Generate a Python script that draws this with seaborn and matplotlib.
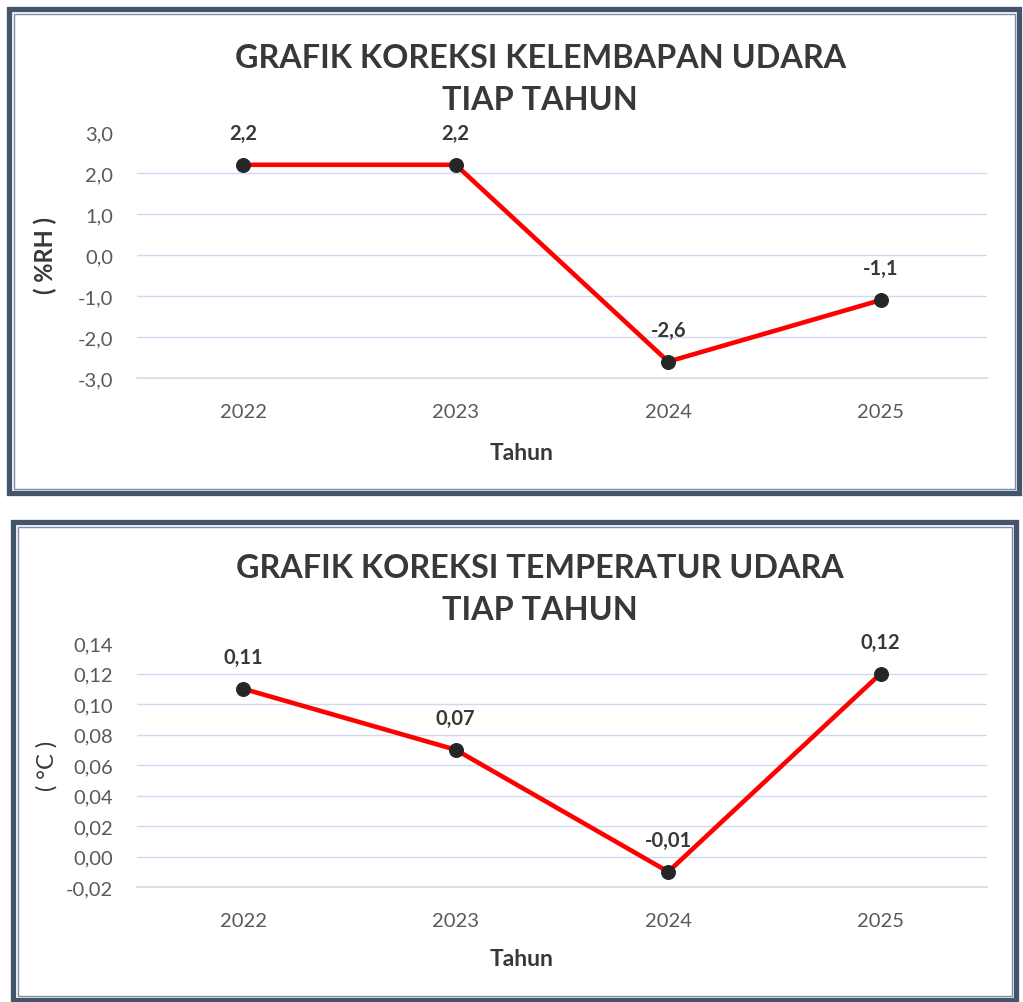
import numpy as np
import pandas as pd
import matplotlib
matplotlib.use("Agg")
import matplotlib.pyplot as plt
from matplotlib.patches import Rectangle
from matplotlib.ticker import FuncFormatter
import seaborn as sns

# data
years = ["2022", "2023", "2024", "2025"]
rh_values = [2.2, 2.2, -2.6, -1.1]
rh_labels = ["2,2", "2,2", "-2,6", "-1,1"]
rh_ticks = [-3.0, -2.0, -1.0, 0.0, 1.0, 2.0, 3.0]
temp_values = [0.11, 0.07, -0.01, 0.12]
temp_labels = ["0,11", "0,07", "-0,01", "0,12"]
temp_ticks = [-0.02, 0.0, 0.02, 0.04, 0.06, 0.08, 0.10, 0.12, 0.14]

sns.set_theme(style="white")
plt.rcParams['font.family'] = ['Lato', 'DejaVu Sans']

TXT = "#383838"
TICK = "#595959"
GRID = "#CFDAF0"
FRAME = "#44546A"

W, H = 1023, 1003
fig = plt.figure(figsize=(W / 100, H / 100), dpi=100)


def px(x0, y0, x1, y1):
    # pixel box (top-left origin) -> figure fraction rect
    return [x0 / W, 1 - y1 / H, (x1 - x0) / W, (y1 - y0) / H]


def frame(x0, y0, x1, y1):
    fig.patches.append(Rectangle((x0 / W, 1 - y1 / H), (x1 - x0) / W, (y1 - y0) / H,
                                 transform=fig.transFigure, fill=False,
                                 edgecolor=FRAME, linewidth=3.8, zorder=5))
    d = 4.5
    fig.patches.append(Rectangle(((x0 + d) / W, 1 - (y1 - d) / H), (x1 - x0 - 2 * d) / W,
                                 (y1 - y0 - 2 * d) / H, transform=fig.transFigure,
                                 fill=False, edgecolor="#7D8DA5", linewidth=1.0, zorder=5))


def draw_chart(ax, values, labels, ticks, fmt, ylabel, ylab_bold, xlab_y):
    df = pd.DataFrame({"Tahun": years, "val": values})
    sns.lineplot(data=df, x="Tahun", y="val", ax=ax, color="#FF0000", linewidth=3.3,
                 marker="o", markersize=10, markerfacecolor="#262626",
                 markeredgecolor="#262626", zorder=3)
    ax.set_xlim(-0.5, len(years) - 0.5)
    ax.set_ylim(ticks[0], ticks[-1])
    ax.set_yticks(ticks)
    ax.yaxis.set_major_formatter(FuncFormatter(lambda v, p: (fmt % v).replace(".", ",")))
    ax.grid(False)
    # gridlines on every tick except the top one (like the Excel chart)
    for t in ticks[1:-1]:
        ax.axhline(t, color=GRID, linewidth=1.0, zorder=1)
    for s in ["top", "right", "left"]:
        ax.spines[s].set_visible(False)
    ax.spines["bottom"].set_color("#D9D9D9")
    ax.spines["bottom"].set_linewidth(1.2)
    ax.tick_params(axis="y", length=0, pad=17, labelsize=14.5, labelcolor=TICK)
    ax.tick_params(axis="x", length=0, pad=18, labelsize=14.5, labelcolor=TICK)
    for i, (v, t) in enumerate(zip(values, labels)):
        ax.annotate(t, (i, v), xytext=(0, 23), textcoords="offset points",
                    ha="center", va="center", fontsize=14.5, fontweight="bold", color=TXT)
    ax.set_xlabel("Tahun", fontsize=16.5, fontweight="bold", color=TXT)
    ax.xaxis.set_label_coords(0.452, xlab_y)
    ax.set_ylabel(ylabel, fontsize=17, fontweight="bold" if ylab_bold else "normal", color=TXT)
    ax.yaxis.set_label_coords(-0.094, 0.5)


# top chart - humidity
frame(9, 10, 1019, 494)
ax1 = fig.add_axes(px(137, 133, 987, 379))
draw_chart(ax1, rh_values, rh_labels, rh_ticks, "%.1f", "( %RH )", True, -0.26)
fig.text(541 / W, 1 - 58 / H, "GRAFIK KOREKSI KELEMBAPAN UDARA", ha="center", va="center",
         fontsize=23.3, fontweight="bold", color=TXT)
fig.text(540 / W, 1 - 101 / H, "TIAP TAHUN", ha="center", va="center",
         fontsize=23.3, fontweight="bold", color=TXT)

# bottom chart - temperature
frame(13, 523, 1016, 1001)
ax2 = fig.add_axes(px(137, 644, 987, 888))
draw_chart(ax2, temp_values, temp_labels, temp_ticks, "%.2f", "( °C )", False, -0.25)
fig.text(540 / W, 1 - 568 / H, "GRAFIK KOREKSI TEMPERATUR UDARA", ha="center", va="center",
         fontsize=23.3, fontweight="bold", color=TXT)
fig.text(540 / W, 1 - 611 / H, "TIAP TAHUN", ha="center", va="center",
         fontsize=23.3, fontweight="bold", color=TXT)

fig.savefig("out.png", dpi=100, facecolor="white")
